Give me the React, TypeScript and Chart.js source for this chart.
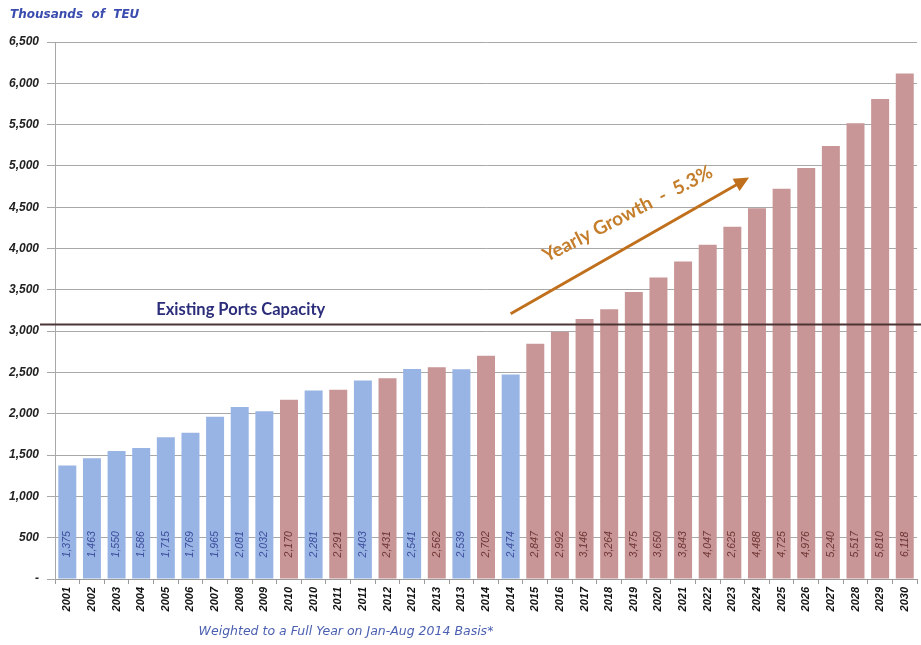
import { useEffect, useRef } from "react";
import { Chart, registerables } from "chart.js";
Chart.register(...registerables);

const categories = [
  "2001", "2002", "2003", "2004", "2005", "2006", "2007", "2008", "2009",
  "2010", "2010", "2011", "2011", "2012", "2012", "2013", "2013", "2014", "2014",
  "2015", "2016", "2017", "2018", "2019", "2020", "2021", "2022", "2023", "2024",
  "2025", "2026", "2027", "2028", "2029", "2030",
];
const values = [
  1375, 1463, 1550, 1586, 1715, 1769, 1965, 2081, 2032,
  2170, 2281, 2291, 2403, 2431, 2541, 2562, 2539, 2702, 2474,
  2847, 2992, 3146, 3264, 3475, 3650, 3843, 4047, 4265, 4488,
  4725, 4976, 5240, 5517, 5810, 6118,
];
const valueLabels = [
  "1,375", "1,463", "1,550", "1,586", "1,715", "1,769", "1,965", "2,081", "2,032",
  "2,170", "2,281", "2,291", "2,403", "2,431", "2,541", "2,562", "2,539", "2,702", "2,474",
  "2,847", "2,992", "3,146", "3,264", "3,475", "3,650", "3,843", "4,047", "2,625", "4,488",
  "4,725", "4,976", "5,240", "5,517", "5,810", "6,118",
];
// A = actual (blue), F = forecast (red)
const kinds = [
  "A", "A", "A", "A", "A", "A", "A", "A", "A",
  "F", "A", "F", "A", "F", "A", "F", "A", "F", "A",
  "F", "F", "F", "F", "F", "F", "F", "F", "F", "F",
  "F", "F", "F", "F", "F", "F",
];
const yMax = 6500;
const yStep = 500;
const capacity = 3080;
const capacityLabel = "Existing Ports Capacity";
const growthLabel = "Yearly Growth  -  5.3%";
const titleText = "Thousands  of  TEU";
const footnoteText = "Weighted to a Full Year on Jan-Aug 2014 Basis*";

const BLUE = "#98b4e4";
const RED = "#c89696";
const BLUE_TXT = "#3c4c9c";
const RED_TXT = "#6e3434";

const overlay = {
  id: "overlay",
  afterDatasetsDraw(chart: any) {
    const { ctx, scales, chartArea } = chart;
    const x = scales.x;
    const y = scales.y;
    const meta = chart.getDatasetMeta(0);
    // value labels in bars
    ctx.save();
    ctx.font = "italic 10.5px 'Liberation Sans', sans-serif";
    ctx.textAlign = "center";
    ctx.textBaseline = "middle";
    meta.data.forEach((bar: any, i: number) => {
      ctx.save();
      ctx.translate(bar.x, y.getPixelForValue(420));
      ctx.rotate(-Math.PI / 2);
      ctx.fillStyle = kinds[i] === "A" ? BLUE_TXT : RED_TXT;
      ctx.fillText(valueLabels[i], 0, 0);
      ctx.restore();
    });
    ctx.restore();

    // capacity line
    const cy = y.getPixelForValue(capacity);
    ctx.save();
    ctx.strokeStyle = "#4e3535";
    ctx.lineWidth = 2;
    ctx.beginPath();
    ctx.moveTo(chartArea.left - 15, cy);
    ctx.lineTo(chart.width, cy);
    ctx.stroke();
    ctx.font = "bold 16.5px Lato, sans-serif";
    ctx.fillStyle = "#2b2d7a";
    ctx.textAlign = "center";
    ctx.textBaseline = "middle";
    ctx.fillText(capacityLabel, x.getPixelForValue(7.04), y.getPixelForValue(3265));
    ctx.restore();

    // growth arrow
    const x0 = x.getPixelForValue(18.0);
    const y0 = y.getPixelForValue(3210);
    const x1 = x.getPixelForValue(27.68);
    const y1 = y.getPixelForValue(4860);
    const ang = Math.atan2(y1 - y0, x1 - x0);
    ctx.save();
    ctx.strokeStyle = "#c0701c";
    ctx.fillStyle = "#c0701c";
    ctx.lineWidth = 3;
    ctx.beginPath();
    ctx.moveTo(x0, y0);
    ctx.lineTo(x1 - 10 * Math.cos(ang), y1 - 10 * Math.sin(ang));
    ctx.stroke();
    ctx.translate(x1, y1);
    ctx.rotate(ang);
    ctx.beginPath();
    ctx.moveTo(0, 0);
    ctx.lineTo(-15, -7);
    ctx.lineTo(-15, 7);
    ctx.closePath();
    ctx.fill();
    ctx.restore();

    ctx.save();
    ctx.translate(x.getPixelForValue(22.75), y.getPixelForValue(4420));
    ctx.rotate(-0.475);
    ctx.font = "bold 19px Lato, sans-serif";
    ctx.fillStyle = "#c47e2c";
    ctx.textAlign = "center";
    ctx.textBaseline = "middle";
    ctx.fillText(growthLabel, 0, 0);
    ctx.restore();
  },
  afterDraw(chart: any) {
    const { ctx } = chart;
    ctx.save();
    ctx.font = "italic bold 12px 'DejaVu Sans', sans-serif";
    ctx.fillStyle = "#3a4cae";
    ctx.textAlign = "left";
    ctx.textBaseline = "middle";
    ctx.fillText(titleText, 10, 15);
    ctx.font = "italic 12.5px 'DejaVu Sans', sans-serif";
    ctx.fillStyle = "#4a5fb0";
    ctx.textAlign = "center";
    ctx.fillText(footnoteText, 346, 632);
    ctx.restore();
  },
};

export default function App() {
  const ref = useRef<HTMLCanvasElement | null>(null);
  useEffect(() => {
    document.body.style.margin = "0";
    const chart = new Chart(ref.current as HTMLCanvasElement, {
      type: "bar",
      data: {
        labels: categories,
        datasets: [
          {
            data: values,
            backgroundColor: kinds.map((k) => (k === "A" ? BLUE : RED)),
            barPercentage: 0.73,
            categoryPercentage: 1,
          },
        ],
      },
      options: {
        animation: false,
        responsive: true,
        maintainAspectRatio: false,
        layout: { padding: { top: 42, right: 3, left: 0, bottom: 0 } },
        plugins: { legend: { display: false }, tooltip: { enabled: false } },
        scales: {
          x: {
            afterFit: (s: any) => {
              s.height = 66;
            },
            grid: {
              display: true,
              drawOnChartArea: false,
              offset: true,
              tickLength: 5,
              color: "#9a9a9a",
            },
            border: { color: "#9a9a9a" },
            ticks: {
              autoSkip: false,
              minRotation: 90,
              maxRotation: 90,
              padding: 3,
              color: "#111",
              font: { family: "'Liberation Sans', sans-serif", size: 11, style: "italic", weight: "bold" },
            },
          },
          y: {
            min: 0,
            max: yMax,
            afterFit: (s: any) => {
              s.width = 55;
            },
            grid: { color: "#a8a8a8", tickLength: 8 },
            border: { color: "#a8a8a8" },
            ticks: {
              stepSize: yStep,
              padding: 8,
              color: "#222",
              font: { family: "'Liberation Sans', sans-serif", size: 12, style: "italic", weight: "bold" },
              callback: (v: any) => (v === 0 ? "-" : Number(v).toLocaleString("en-US")),
            },
          },
        },
      },
      plugins: [overlay],
    });
    return () => chart.destroy();
  }, []);
  return (
    <div style={{ width: 921, height: 645, position: "relative", background: "#fff" }}>
      <canvas ref={ref} />
    </div>
  );
}
